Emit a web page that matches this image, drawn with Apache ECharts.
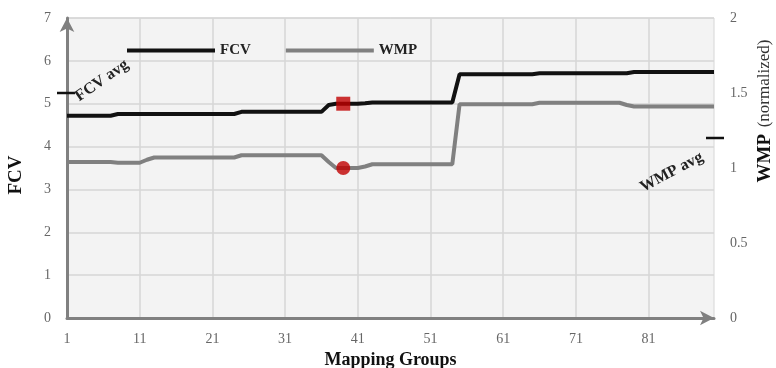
<!DOCTYPE html>
<html>
<head>
<meta charset="utf-8">
<script src="https://cdn.jsdelivr.net/npm/echarts@6/dist/echarts.min.js"></script>
<style>
  html, body { margin: 0; padding: 0; background: #fff; }
  #chart { width: 776px; height: 368px; }
</style>
</head>
<body>
<div id="chart"></div>
<script>
// mapping groups 1..90
var groups = [];
for (var i = 1; i <= 90; i++) groups.push(String(i));

var fcv = [
  4.72, 4.72, 4.72, 4.72, 4.72, 4.72, 4.72, 4.76, 4.76, 4.76,
  4.76, 4.76, 4.76, 4.76, 4.76, 4.76, 4.76, 4.76, 4.76, 4.76,
  4.76, 4.76, 4.76, 4.76, 4.81, 4.81, 4.81, 4.81, 4.81, 4.81,
  4.81, 4.81, 4.81, 4.81, 4.81, 4.81, 4.97, 5.0, 5.0, 5.0,
  5.0, 5.01, 5.03, 5.03, 5.03, 5.03, 5.03, 5.03, 5.03, 5.03,
  5.03, 5.03, 5.03, 5.03, 5.69, 5.69, 5.69, 5.69, 5.69, 5.69,
  5.69, 5.69, 5.69, 5.69, 5.69, 5.71, 5.71, 5.71, 5.71, 5.71,
  5.71, 5.71, 5.71, 5.71, 5.71, 5.71, 5.71, 5.71, 5.74, 5.74,
  5.74, 5.74, 5.74, 5.74, 5.74, 5.74, 5.74, 5.74, 5.74, 5.74
];

var wmp = [
  1.04, 1.04, 1.04, 1.04, 1.04, 1.04, 1.04, 1.035, 1.035, 1.035,
  1.035, 1.055, 1.07, 1.07, 1.07, 1.07, 1.07, 1.07, 1.07, 1.07,
  1.07, 1.07, 1.07, 1.07, 1.085, 1.085, 1.085, 1.085, 1.085, 1.085,
  1.085, 1.085, 1.085, 1.085, 1.085, 1.085, 1.04, 1.0, 1.0, 1.0,
  1.0, 1.01, 1.025, 1.025, 1.025, 1.025, 1.025, 1.025, 1.025, 1.025,
  1.025, 1.025, 1.025, 1.025, 1.425, 1.425, 1.425, 1.425, 1.425, 1.425,
  1.425, 1.425, 1.425, 1.425, 1.425, 1.435, 1.435, 1.435, 1.435, 1.435,
  1.435, 1.435, 1.435, 1.435, 1.435, 1.435, 1.435, 1.42, 1.41, 1.41,
  1.41, 1.41, 1.41, 1.41, 1.41, 1.41, 1.41, 1.41, 1.41, 1.41
];

// highlighted point and averages
var markGroup = '39';
var fcvMark = 5.0;
var wmpMark = 1.0;
var fcvAvg = 5.25;
var wmpAvg = 1.2;

var serif = 'Liberation Serif';
var chart = echarts.init(document.getElementById('chart'));

var option = {
  backgroundColor: '#fff',
  animation: false,
  grid: {
    left: 67, right: 62, top: 18, bottom: 50,
    outerBoundsMode: 'none',
    show: true, backgroundColor: '#f3f3f3',
    borderColor: '#d6d6d6', borderWidth: 1
  },
  legend: {
    data: ['FCV', 'WMP'],
    left: 122, top: 38,
    itemWidth: 88, itemHeight: 4, itemGap: 35,
    icon: 'rect',
    textStyle: { fontFamily: serif, fontWeight: 'bold', fontSize: 15, color: '#222' }
  },
  xAxis: {
    type: 'category',
    data: groups,
    boundaryGap: false,
    axisLine: { lineStyle: { color: '#808080', width: 3 }, symbol: ['none', 'arrow'], symbolSize: [11, 14] },
    axisTick: { show: false },
    axisLabel: { interval: 9, margin: 14, fontFamily: serif, fontSize: 14, color: '#666' },
    splitLine: { show: true, interval: 9, lineStyle: { color: '#d6d6d6', width: 1.5 } },
    name: 'Mapping Groups',
    nameLocation: 'middle',
    nameGap: 33,
    nameTextStyle: { fontFamily: serif, fontWeight: 'bold', fontSize: 18, color: '#111' }
  },
  yAxis: [{
    type: 'value', min: 0, max: 7, interval: 1,
    axisLine: { show: true, lineStyle: { color: '#808080', width: 3 }, symbol: ['none', 'arrow'], symbolSize: [11, 14] },
    axisTick: { show: false },
    axisLabel: { margin: 16, fontFamily: serif, fontSize: 14, color: '#666' },
    splitLine: { lineStyle: { color: '#d6d6d6', width: 1.5 } }
  }, {
    type: 'value', min: 0, max: 2, interval: 0.5,
    axisLine: { show: false },
    axisTick: { show: false },
    axisLabel: { margin: 16, fontFamily: serif, fontSize: 14, color: '#666' },
    splitLine: { show: false }
  }],
  series: [{
    name: 'FCV', type: 'line', data: fcv, yAxisIndex: 0,
    symbol: 'none', color: '#111',
    lineStyle: { width: 4, color: '#111' }, z: 3
  }, {
    name: 'WMP', type: 'line', data: wmp, yAxisIndex: 1,
    symbol: 'none', color: '#808080',
    lineStyle: { width: 4, color: '#808080' }, z: 3
  }, {
    type: 'scatter', yAxisIndex: 0, symbol: 'rect', symbolSize: 14,
    itemStyle: { color: '#c00000' }, data: [[markGroup, fcvMark]], z: 5
  }, {
    type: 'scatter', yAxisIndex: 1, symbol: 'circle', symbolSize: 14,
    itemStyle: { color: '#c00000' }, data: [[markGroup, wmpMark]], z: 5
  }]
};
chart.setOption(option);

// avg ticks, annotations and rotated axis titles
var yF = chart.convertToPixel({ yAxisIndex: 0 }, fcvAvg);
var yW = chart.convertToPixel({ yAxisIndex: 1 }, wmpAvg);
var xL = chart.convertToPixel({ xAxisIndex: 0 }, groups[0]);
var xR = chart.convertToPixel({ xAxisIndex: 0 }, groups[groups.length - 1]);

chart.setOption({
  graphic: [
    { type: 'line', shape: { x1: xL - 10, y1: yF, x2: xL + 8, y2: yF }, style: { stroke: '#111', lineWidth: 2.5 }, z: 10 },
    { type: 'text', x: xL + 10, y: yF + 5, rotation: 35 * Math.PI / 180,
      style: { text: 'FCV avg', fontFamily: serif, fontWeight: 'bold', fontSize: 16, fill: '#222', textAlign: 'left', textVerticalAlign: 'middle' }, z: 10 },
    { type: 'line', shape: { x1: xR - 8, y1: yW, x2: xR + 10, y2: yW }, style: { stroke: '#111', lineWidth: 2.5 }, z: 10 },
    { type: 'text', x: xR - 12, y: yW + 18, rotation: 28 * Math.PI / 180,
      style: { text: 'WMP avg', fontFamily: serif, fontWeight: 'bold', fontSize: 16, fill: '#222', textAlign: 'right', textVerticalAlign: 'middle' }, z: 10 },
    { type: 'text', x: 16, y: 175, rotation: Math.PI / 2,
      style: { text: 'FCV', fontFamily: serif, fontWeight: 'bold', fontSize: 19, fill: '#111', textAlign: 'center', textVerticalAlign: 'middle' } },
    { type: 'text', x: 765, y: 111, rotation: Math.PI / 2,
      style: {
        text: '{b|WMP}  {n|(normalized)}', textAlign: 'center', textVerticalAlign: 'middle',
        rich: {
          b: { fontFamily: serif, fontWeight: 'bold', fontSize: 19, fill: '#111' },
          n: { fontFamily: serif, fontSize: 17, fill: '#333' }
        }
      } }
  ]
});
</script>
</body>
</html>
